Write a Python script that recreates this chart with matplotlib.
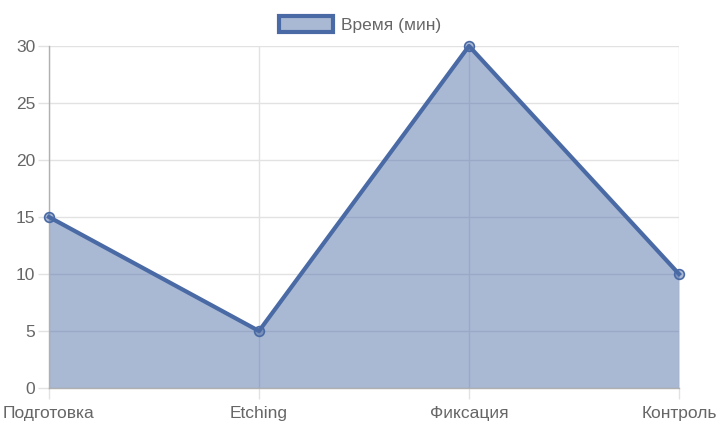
import matplotlib.pyplot as plt
from matplotlib.patches import Patch

plt.rcParams['font.family'] = ['Liberation Sans', 'DejaVu Sans']

# Data
stages = ['Подготовка', 'Etching', 'Фиксация', 'Контроль']
minutes = [15, 5, 30, 10]
series_label = 'Время (мин)'

line_color = '#4a6aa5'
fill_color = (74/255, 106/255, 165/255, 0.47)
grid_color = '#e2e2e2'
text_color = '#666666'

fig = plt.figure(figsize=(7.2, 4.32), dpi=100)
ax = fig.add_axes([49/720, 1 - 388/432, 630/720, 342/432])

x = list(range(len(stages)))
ax.fill_between(x, minutes, 0, color=fill_color, lw=0, zorder=2)
ax.plot(x, minutes, color=line_color, lw=3, zorder=3,
        marker='o', markersize=7, markerfacecolor=fill_color,
        markeredgecolor=line_color, markeredgewidth=1.2, clip_on=False)

ax.set_xlim(0, len(stages) - 1)
ax.set_ylim(0, 30)
ax.set_xticks(x)
ax.set_xticklabels(stages)
ax.set_yticks(range(0, 31, 5))

ax.grid(True, color=grid_color, lw=1, zorder=0)
for side in ['top', 'right']:
    ax.spines[side].set_visible(False)
for side in ['left', 'bottom']:
    ax.spines[side].set_color('#b0b0b0')
    ax.spines[side].set_linewidth(1)
ax.tick_params(axis='both', colors=grid_color, labelcolor=text_color,
               labelsize=12.5, length=8, width=1)
ax.tick_params(axis='x', pad=5)
ax.tick_params(axis='y', pad=2)

handle = Patch(facecolor=fill_color, edgecolor=line_color, linewidth=3)
fig.legend(handles=[handle], labels=[series_label], loc='upper center',
           bbox_to_anchor=(0.5, 1.0), frameon=False, fontsize=12.5,
           labelcolor=text_color, handlelength=3.1, handleheight=1.1,
           handletextpad=0.5)

fig.savefig('out.png', dpi=100)
